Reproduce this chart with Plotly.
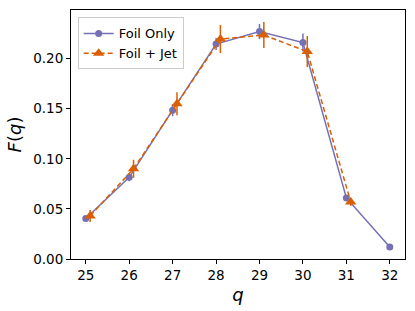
import plotly.graph_objects as go

q_foil = [25, 26, 27, 28, 29, 30, 31, 32]
f_foil = [0.0405, 0.0815, 0.1485, 0.2145, 0.227, 0.216, 0.061, 0.012]
e_foil = [0.002, 0.004, 0.006, 0.006, 0.0075, 0.009, 0.003, 0.002]

q_jet = [25.1, 26.1, 27.1, 28.1, 29.1, 30.1, 31.1]
f_jet = [0.043, 0.090, 0.155, 0.2195, 0.2235, 0.207, 0.057]
e_jet = [0.006, 0.009, 0.0115, 0.014, 0.013, 0.0155, 0.004]

purple = "#7570b3"
orange = "#d95f02"

fig = go.Figure()
fig.add_trace(go.Scatter(
    x=q_foil, y=f_foil, name="Foil Only", mode="lines+markers",
    line=dict(color=purple, width=1.5),
    marker=dict(symbol="circle", size=7, color=purple),
    error_y=dict(type="data", array=e_foil, color=purple, thickness=1.5, width=0),
))
fig.add_trace(go.Scatter(
    x=q_jet, y=f_jet, name="Foil + Jet", mode="lines+markers",
    line=dict(color=orange, width=1.5, dash="5px,3px"),
    marker=dict(symbol="triangle-up", size=10, color=orange),
    error_y=dict(type="data", array=e_jet, color=orange, thickness=1.5, width=0),
))

fig.update_layout(
    width=415, height=311,
    margin=dict(l=71, r=10, t=9, b=51),
    paper_bgcolor="white", plot_bgcolor="white",
    font=dict(family="DejaVu Sans", size=13, color="black"),
    showlegend=True,
    legend=dict(x=0.02, y=0.97, xanchor="left", yanchor="top",
                bgcolor="rgba(255,255,255,0.8)", bordercolor="#cccccc", borderwidth=1,
                font=dict(size=13), tracegroupgap=0, itemwidth=30),
    xaxis=dict(range=[24.66, 32.35], tickvals=[25, 26, 27, 28, 29, 30, 31, 32],
               showgrid=False, zeroline=False, showline=True, linecolor="black",
               linewidth=1, mirror=True, ticks="outside", ticklen=4, tickcolor="black",
               tickfont=dict(size=13.5),
               title=dict(text="<i>q</i>", font=dict(size=18), standoff=6)),
    yaxis=dict(range=[0, 0.2485], tickvals=[0, 0.05, 0.10, 0.15, 0.20],
               ticktext=["0.00", "0.05", "0.10", "0.15", "0.20"],
               showgrid=False, zeroline=False, showline=True, linecolor="black",
               linewidth=1, mirror=True, ticks="outside", ticklen=4, tickcolor="black",
               tickfont=dict(size=13.5),
               title=dict(text="<i>F</i>(<i>q</i>)", font=dict(size=18), standoff=6)),
)

fig.write_html("out.html", config={"displayModeBar": False},
               post_script="document.body.style.margin='0';")
